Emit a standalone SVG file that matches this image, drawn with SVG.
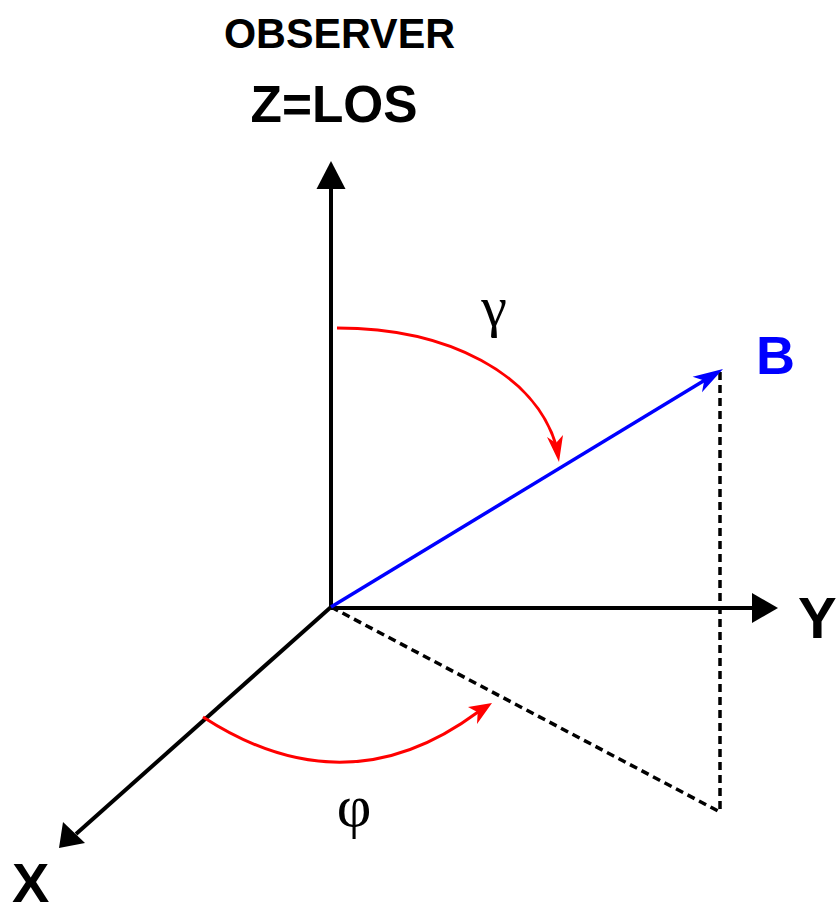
<svg xmlns="http://www.w3.org/2000/svg" width="838" height="915" viewBox="0 0 838 915">
<style>
.lbl{font-family:"Liberation Sans",Arial,sans-serif;font-weight:bold;fill:#000}
.greek{font-family:"Liberation Serif","Times New Roman",serif;fill:#000}
.axis{stroke:#000;stroke-width:4;fill:none}
.dash{stroke:#000;stroke-width:3.5;fill:none;stroke-dasharray:8 5}
.red{stroke:#ff0000;stroke-width:3;fill:none}
</style>
<rect width="838" height="915" fill="#fff"/>
<g id="connectors">
  <line class="dash" x1="331" y1="607" x2="720" y2="812"/>
  <line class="dash" x1="720" y1="372" x2="720" y2="812"/>
  <line class="axis" x1="331" y1="608" x2="331" y2="186"/>
  <polygon points="331,161 316.5,189 345.5,189" fill="#000"/>
  <line class="axis" x1="331" y1="608" x2="756" y2="608"/>
  <polygon points="778,608 752,593 752,623" fill="#000"/>
  <line class="axis" stroke-width="3.5" x1="331" y1="607" x2="76" y2="834"/>
  <polygon points="59,848 63,822 85,843" fill="#000"/>
  <line x1="331" y1="607" x2="705" y2="380" stroke="#0000ff" stroke-width="3.5"/>
  <polygon points="723,369 692.6,376.8 704.2,380.4 702,392.2" fill="#0000ff"/>
  <path class="red" d="M337,328 C450,328 535,375 556,445"/>
  <polygon points="559,462 547,437 556,443 563,435" fill="#ff0000"/>
  <path class="red" d="M203,717 Q346,810 478,712"/>
  <polygon points="492,703 468,707 477.7,712.2 477,724" fill="#ff0000"/>
</g>
<g id="observer"><text class="lbl" x="339.5" y="48" font-size="42" text-anchor="middle" textLength="231" lengthAdjust="spacingAndGlyphs">OBSERVER</text></g>
<g id="zlos"><text class="lbl" x="334" y="122" font-size="52" text-anchor="middle" textLength="167" lengthAdjust="spacingAndGlyphs">Z=LOS</text></g>
<g id="ylabel"><text class="lbl" x="798" y="638" font-size="58">Y</text></g>
<g id="xlabel"><text class="lbl" x="12" y="902" font-size="56">X</text></g>
<g id="blabel"><text class="lbl" x="756" y="374" font-size="54" style="fill:#0000ff">B</text></g>
<g id="gamma"><text class="greek" x="494" y="326" font-size="58" text-anchor="middle">γ</text></g>
<g id="phi"><text class="greek" x="354" y="826" font-size="60" text-anchor="middle">φ</text></g>
</svg>
